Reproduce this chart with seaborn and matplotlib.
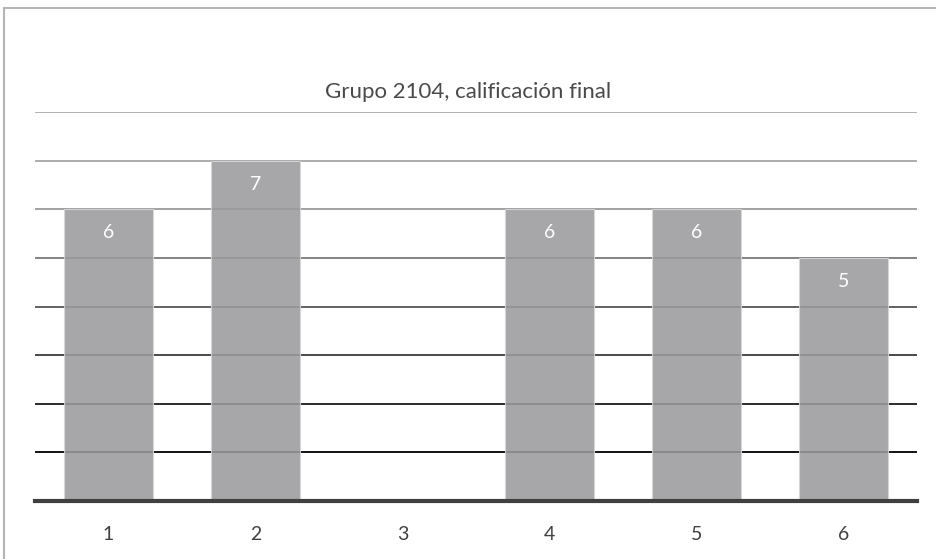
import matplotlib
matplotlib.use('Agg')
import matplotlib.pyplot as plt
import seaborn as sns
import numpy as np
import pandas as pd
from matplotlib.patches import Rectangle

# data
grupos = ['1', '2', '3', '4', '5', '6']
calificacion = [6, 7, np.nan, 6, 6, 5]
niveles = [1, 2, 3, 4, 5, 6, 7, 8]
titulo = 'Grupo 2104, calificación final'

df = pd.DataFrame({'grupo': grupos, 'calif': calificacion})

sns.set_theme(style='white')
plt.rcParams['font.family'] = ['Lato', 'DejaVu Sans']

fig = plt.figure(figsize=(9.37, 5.59), dpi=100)
ax = fig.add_axes([35/937, 1 - 501/559, 882/937, (501 - 112)/559])

# grid below the bars, bars slightly see-through so the lines show
ax.set_axisbelow(True)
ax.yaxis.grid(True, linewidth=1.3)
sns.barplot(data=df, x='grupo', y='calif', order=grupos, color='#9b9b9d',
            saturation=1, width=0.6, edgecolor='#d8d8d8', linewidth=0.8,
            alpha=0.88, ax=ax)

ax.set_ylim(0, 8)
ax.set_xlim(-0.5, 5.5)
ax.set_yticks(niveles)
ax.set_yticklabels([])
grid_cols = ['#000000', '#1a1a1a', '#3a3a3a', '#555555',
             '#7a7a7a', '#9a9a9a', '#a6a6a6', '#ababab']
for ln, c in zip(ax.get_ygridlines(), grid_cols):
    ln.set_color(c)

for s in ['left', 'right', 'top']:
    ax.spines[s].set_visible(False)
ax.spines['bottom'].set_color('#404040')
ax.spines['bottom'].set_linewidth(3)
ax.tick_params(axis='x', length=0, pad=18, labelsize=14, labelcolor='#404040')
ax.tick_params(axis='y', length=0)
ax.set_xlabel('')
ax.set_ylabel('')

for i, v in enumerate(calificacion):
    if np.isnan(v):
        continue
    ax.annotate(f'{int(v)}', (i, v), xytext=(0, -17), textcoords='offset points',
                ha='center', va='center', color='white', fontsize=14)

fig.text(468/937, 1 - 92/559, titulo, ha='center', va='center',
         fontsize=16, color='#4a4a4a')

# outer frame of the chart object
fig.patches.append(Rectangle((4/937, -0.05), 1.05, 1 - 8/559 + 0.05,
                             transform=fig.transFigure, fill=False,
                             edgecolor='#b5b5b5', linewidth=1.5))

fig.savefig('out.png', dpi=100)
